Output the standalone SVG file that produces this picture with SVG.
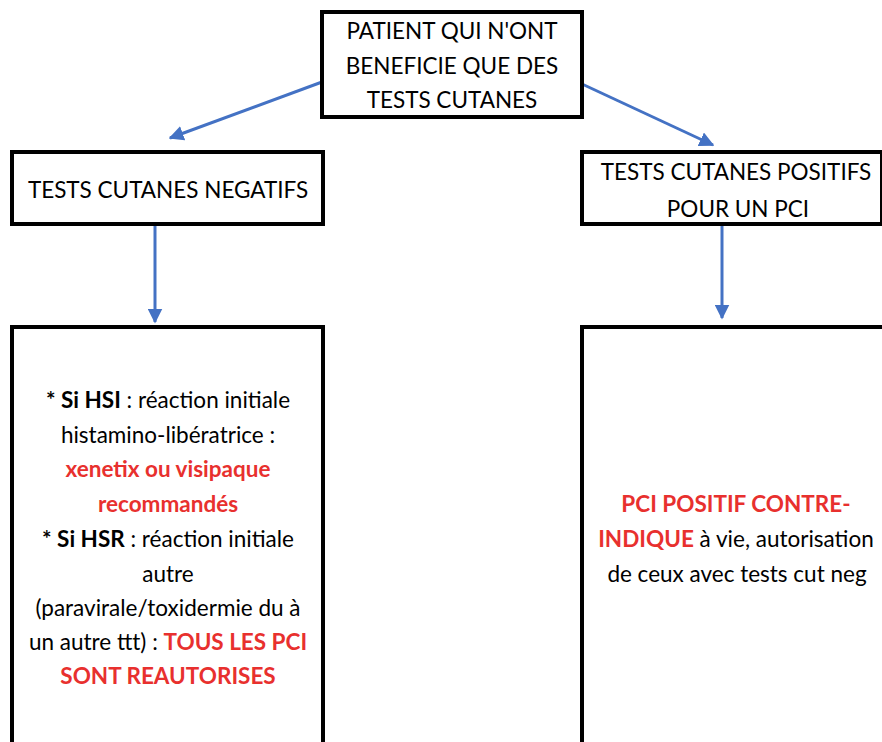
<svg xmlns="http://www.w3.org/2000/svg" width="882" height="742" viewBox="0 0 882 742">
<defs>
<style>
.box{fill:#fff;stroke:#000;stroke-width:4}
.t{font-family:Lato,"Open Sans","Liberation Sans",sans-serif;font-size:22.5px;fill:#000;text-anchor:middle}
.b{font-weight:bold}
.r{fill:#e8302e;font-weight:bold}
.c{stroke:#4472c4;stroke-width:3;fill:none;marker-end:url(#ah)}
</style>
<marker id="ah" viewBox="0 0 10 10" refX="9" refY="5" markerWidth="5" markerHeight="5" orient="auto" markerUnits="strokeWidth">
<path d="M0,0 L10,5 L0,10 z" fill="#4472c4"/>
</marker>
</defs>
<rect width="882" height="742" fill="#fff"/>
<g id="connectors">
<line class="c" x1="322" y1="82" x2="170" y2="138"/>
<line class="c" x1="582" y1="84" x2="713" y2="145"/>
<line class="c" x1="155" y1="225" x2="155" y2="322"/>
<line class="c" x1="722" y1="225" x2="722" y2="318"/>
</g>
<g id="n-top">
<rect class="box" x="322" y="12" width="260" height="105"/>
<text class="t" x="452" y="39">PATIENT QUI N'ONT</text>
<text class="t" x="452" y="74">BENEFICIE QUE DES</text>
<text class="t" x="452" y="108">TESTS CUTANES</text>
</g>
<g id="n-neg">
<rect class="box" x="12" y="152" width="311" height="72"/>
<text class="t" x="168" y="198">TESTS CUTANES NEGATIFS</text>
</g>
<g id="n-pos">
<rect class="box" x="582" y="152" width="300" height="72"/>
<text class="t" x="736" y="180">TESTS CUTANES POSITIFS</text>
<text class="t" x="738" y="217">POUR UN PCI</text>
</g>
<g id="n-neg-detail">
<rect class="box" x="12" y="327" width="311" height="430"/>
<text class="t" x="168" y="408"><tspan class="b">* Si HSI</tspan> : réaction initiale</text>
<text class="t" x="168" y="443">histamino-libératrice :</text>
<text class="t r" x="168" y="477">xenetix ou visipaque</text>
<text class="t r" x="168" y="512">recommandés</text>
<text class="t" x="168" y="547"><tspan class="b">* Si HSR</tspan> : réaction initiale</text>
<text class="t" x="168" y="582">autre</text>
<text class="t" x="168" y="616">(paravirale/toxidermie du à</text>
<text class="t" x="168" y="650">un autre ttt) : <tspan class="r">TOUS LES PCI</tspan></text>
<text class="t r" x="168" y="684">SONT REAUTORISES</text>
</g>
<g id="n-pos-detail">
<rect class="box" x="582" y="327" width="310" height="430"/>
<text class="t r" x="736" y="512">PCI POSITIF CONTRE-</text>
<text class="t" x="736" y="547"><tspan class="r">INDIQUE</tspan> à vie, autorisation</text>
<text class="t" x="737" y="582">de ceux avec tests cut neg</text>
</g>
</svg>
